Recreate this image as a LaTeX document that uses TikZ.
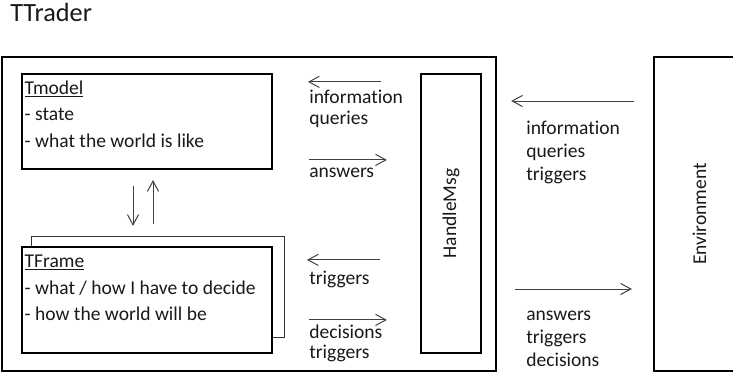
\documentclass[tikz,border=0pt]{standalone}
\usepackage{fontspec}
\setmainfont{Carlito}[Ligatures=NoCommon]
\usetikzlibrary{arrows.meta,positioning,calc}

\begin{document}
\begin{tikzpicture}[
    x=0.025cm, y=-0.025cm,
    every node/.style={font=\fontsize{13.9}{16.4}\selectfont, inner sep=0pt, text=black!90},
    box/.style={rectangle, draw=black, line width=1.5pt},
    boxtext/.style={align=left, anchor=base west, font=\fontsize{13.9}{18.9}\selectfont},
    lbl/.style={align=left, anchor=base west},
    msgarr/.style={-{Straight Barb[length=2.6mm, width=2.8mm]}, line width=0.7pt, black!75}
  ]
    \useasboundingbox (0,0) rectangle (733,373);

    \node[anchor=base west, font=\fontsize{18.7}{22}\selectfont] (title) at (10,21.7) {TTrader};

    % Main boxes
    \node[box, minimum width=12.35cm, minimum height=7.85cm] (trader) at (249,214) {};
    \node[box, minimum width=6.25cm, minimum height=2.375cm] (tmodel) at (147,121.5) {};
    \node[box, minimum width=6.25cm, minimum height=2.65cm] (tframe) at (147,300) {};
    \node[box, minimum width=1.5cm, minimum height=6.975cm] (handle) at (451,213.5)
      {\rotatebox{90}{HandleMsg}};
    \node[box, minimum width=2.275cm, minimum height=7.85cm] (env) at (699.5,214)
      {\rotatebox{90}{Environment}};

    % Stacked frame behind TFrame
    \draw[line width=0.7pt, black!80] ($(tframe.north west)+(11,0)$) -- ++(0,-9) -|
      ($(tframe.south east)+(11,-17)$) -- ($(tframe.south east)+(0,-17)$);

    % base = last line
    \node[boxtext] (tmodeltxt) at ($(tmodel.north west)+(3.5,74.3)$)
      {\underline{Tmodel}\\- state\\- what the world is like};
    \node[boxtext] (tframetxt) at ($(tframe.north west)+(3.5,74.7)$)
      {\underline{TFrame}\\- what / how I have to decide\\- how the world will be};

    % Model <-> frame
    \draw[msgarr] ($(tmodel.south)+(-14,16)$) -- ($(tframe.north)+(-14,-20)$);
    \draw[msgarr] ($(tframe.north)+(6,-22)$) -- ($(tmodel.south)+(6,10)$);

    % Messages inside TTrader
    \coordinate (m1) at ($(handle.north west)+(-39,9)$);
    \coordinate (m2) at ($(handle.north west)+(-111,87)$);
    \coordinate (m3) at ($(handle.north west)+(-40,187)$);
    \coordinate (m4) at ($(handle.north west)+(-111,247)$);
    \draw[msgarr] (m1) -- ++(-73,0);
    \draw[msgarr] (m2) -- ++(78,0);
    \draw[msgarr] (m3) -- ++(-73,0);
    \draw[msgarr] (m4) -- ++(78,0);
    \node[lbl] (lblinfo) at (309,125) {information\\[-1.2pt]queries};
    \node[lbl] (lblans) at (309,178) {answers};
    \node[lbl] (lbltrig) at (309,284.3) {triggers};
    \node[lbl] (lbldec) at (309,358.3) {decisions\\[-2.2pt]triggers};

    % Messages with the environment
    \draw[msgarr] ($(env.west)+(-19,-113)$) -- ($(trader.east)+(14,-113)$);
    \draw[msgarr] ($(trader.east)+(18,75)$) -- ($(env.west)+(-21,75)$);
    \node[lbl] (lblin) at (526,181) {information\\queries\\triggers};
    \node[lbl] (lblout) at (526,366.7) {answers\\triggers\\decisions};

  \end{tikzpicture}
\end{document}
